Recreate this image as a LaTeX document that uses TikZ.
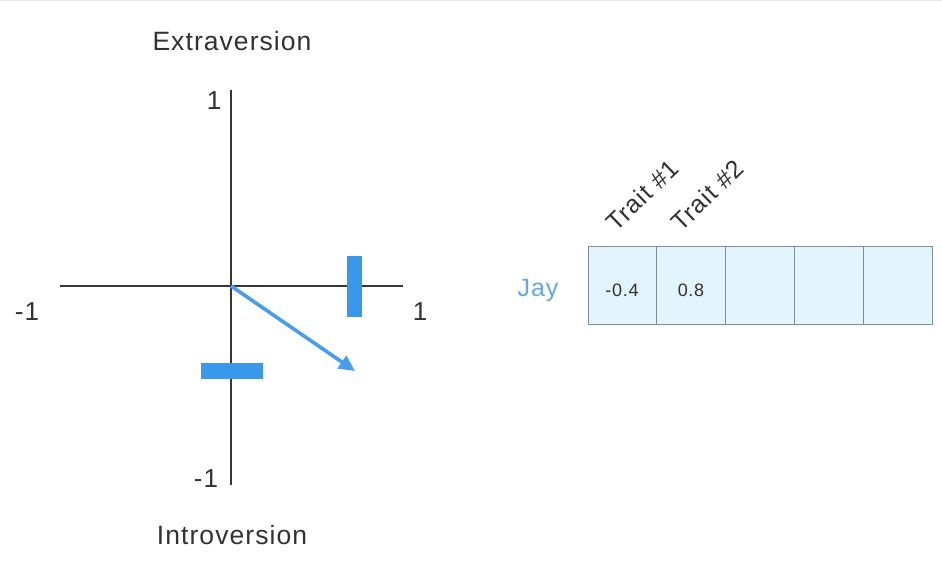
\documentclass[tikz,border=0pt]{standalone}
\usepackage{fontspec}
\setmainfont{Liberation Sans}[LetterSpace=4]
\usetikzlibrary{arrows.meta}
\definecolor{axisgray}{RGB}{55,55,55}
\definecolor{txtgray}{RGB}{50,50,50}
\definecolor{barblue}{RGB}{58,152,236}
\definecolor{arrowblue}{RGB}{72,158,234}
\definecolor{jayblue}{RGB}{98,168,226}
\definecolor{cellfill}{RGB}{226,244,252}
\definecolor{cellline}{RGB}{128,142,146}
\tikzset{
  axis/.style={draw=axisgray, line width=1.1pt},
  axlabel/.style={text=txtgray, font=\fontsize{26.5}{30}\selectfont, inner sep=0pt},
  ticklabel/.style={text=txtgray, font=\fontsize{26}{30}\selectfont, inner sep=0pt},
  bar/.style={fill=barblue, draw=none, inner sep=0pt, outer sep=0pt},
  vec/.style={draw=arrowblue, line width=3.6pt, -{Triangle[length=16pt,width=15pt]}},
  cell/.style={fill=cellfill, draw=cellline, line width=0.9pt, minimum width=68.8pt,
    minimum height=77.6pt, inner sep=0pt, outer sep=0pt},
  cellnum/.style={text=txtgray, font=\fontsize{18}{22}\selectfont, inner sep=0pt},
  trait/.style={text=txtgray, font=\fontsize{25}{29}\selectfont, rotate=44,
    anchor=base west, inner sep=0pt},
}
\begin{document}
\begin{tikzpicture}[x=1pt, y=-1pt]
  \useasboundingbox (0,0) rectangle (942,578);
  \fill[white] (0,0) rectangle (942,578);
  \draw[gray!18, line width=1pt] (0,0.5) -- (942,0.5);

  % axes
  \coordinate (xmin) at (60,286);
  \coordinate (xmax) at (403,286);
  \coordinate (ymax) at (231,90);
  \coordinate (ymin) at (231,485);
  \coordinate (origin) at (231,286);
  \coordinate (tip) at (355,371);
  \draw[axis] (xmin) -- (xmax);
  \draw[axis] (ymax) -- (ymin);

  % axis labels
  \node[axlabel] (extra) at (232,41) {Extraversion};
  \node[axlabel] (intro) at (232,535) {Introversion};
  \node[ticklabel] (ytop) at (214,101) {1};
  \node[ticklabel] (ybot) at (206,479) {-1};
  \node[ticklabel] (xleft) at (27,312) {-1};
  \node[ticklabel] (xright) at (420,312) {1};

  % blue bars and vector
  \node[bar, minimum width=15pt, minimum height=61pt] (vbar) at (354.2,286.3) {};
  \node[bar, minimum width=62pt, minimum height=16pt] (hbar) at (231.8,371.3) {};
  \draw[vec] (origin) -- (tip);

  % trait vector table
  \node[text=jayblue, font=\fontsize{25}{29}\selectfont, inner sep=0pt] (jay) at (538,290) {Jay};
  \node[cell] (c1) at (622.4,285.5) {};
  \node[cell] (c2) at (691.2,285.5) {};
  \node[cell] (c3) at (760.0,285.5) {};
  \node[cell] (c4) at (828.8,285.5) {};
  \node[cell] (c5) at (897.6,285.5) {};
  \node[cellnum] (v1) at (622,290) {-0.4};
  \node[cellnum] (v2) at (691,290) {0.8};
  \node[trait] (t1) at (616,233) {Trait \#1};
  \node[trait] (t2) at (681,233) {Trait \#2};
\end{tikzpicture}
\end{document}
